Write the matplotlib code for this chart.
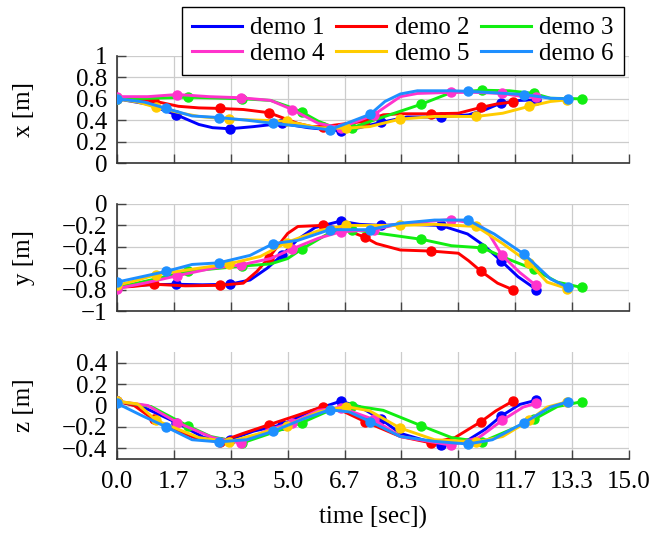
import matplotlib
matplotlib.use('Agg')
import matplotlib.pyplot as plt
from matplotlib.lines import Line2D

plt.rcParams['font.family'] = ['Liberation Serif', 'DejaVu Serif']
plt.rcParams['font.size'] = 18
plt.rcParams['axes.unicode_minus'] = True

demos = ['demo 1', 'demo 2', 'demo 3', 'demo 4', 'demo 5', 'demo 6']
colores = ['#0000ff', '#ff0000', '#11ee11', '#ff33cc', '#ffcc00', '#1e8fff']

# tiempos de los puntos marcados (por demo)
t_d1 = [0, 1.74, 3.30, 4.83, 6.55, 7.74, 9.49, 11.25, 12.29]
t_d2 = [0, 1.07, 3.01, 4.45, 6.03, 7.26, 9.21, 10.67, 11.59]
t_d3 = [0, 2.07, 3.67, 5.42, 6.89, 8.92, 10.70, 12.21, 13.61]
t_d4 = [0, 1.77, 3.62, 5.13, 6.55, 7.52, 9.78, 11.28, 12.27]
t_d5 = [0, 1.15, 3.27, 4.97, 6.71, 8.29, 10.53, 12.08, 13.19]
t_d6 = [0, 1.44, 2.98, 4.58, 6.23, 7.42, 10.28, 11.93, 13.22]

# valores en los puntos marcados
x_d1 = [0.60, 0.45, 0.32, 0.37, 0.30, 0.38, 0.43, 0.56, 0.59]
x_d2 = [0.61, 0.58, 0.51, 0.47, 0.34, 0.39, 0.46, 0.52, 0.57]
x_d3 = [0.60, 0.615, 0.60, 0.475, 0.33, 0.55, 0.68, 0.65, 0.60]
x_d4 = [0.62, 0.64, 0.61, 0.50, 0.33, 0.45, 0.66, 0.65, 0.615]
x_d5 = [0.60, 0.52, 0.41, 0.39, 0.325, 0.41, 0.435, 0.53, 0.59]
x_d6 = [0.60, 0.51, 0.425, 0.37, 0.31, 0.456, 0.67, 0.64, 0.60]

y_d1 = [-0.77, -0.75, -0.75, -0.48, -0.16, -0.20, -0.20, -0.53, -0.80]
y_d2 = [-0.78, -0.75, -0.76, -0.50, -0.20, -0.31, -0.44, -0.63, -0.80]
y_d3 = [-0.78, -0.63, -0.58, -0.42, -0.24, -0.33, -0.41, -0.61, -0.78]
y_d4 = [-0.79, -0.67, -0.57, -0.42, -0.26, -0.24, -0.145, -0.48, -0.76]
y_d5 = [-0.76, -0.66, -0.56, -0.36, -0.20, -0.20, -0.21, -0.55, -0.79]
y_d6 = [-0.73, -0.63, -0.55, -0.37, -0.24, -0.24, -0.15, -0.47, -0.78]

z_d1 = [0.04, -0.16, -0.32, -0.18, 0.04, -0.13, -0.37, -0.10, 0.05]
z_d2 = [0.04, -0.13, -0.34, -0.18, -0.01, -0.15, -0.35, -0.15, 0.04]
z_d3 = [0.04, -0.19, -0.35, -0.16, 0.0, -0.19, -0.34, -0.13, 0.035]
z_d4 = [0.04, -0.16, -0.35, -0.16, -0.02, -0.13, -0.37, -0.14, 0.02]
z_d5 = [0.04, -0.14, -0.34, -0.19, -0.01, -0.21, -0.34, -0.14, 0.035]
z_d6 = [0.02, -0.20, -0.34, -0.24, -0.04, -0.15, -0.36, -0.16, 0.035]

# puntos intermedios de las curvas (t, valor)
xe_d1 = [(0.9, 0.55), (2.4, 0.36), (2.8, 0.33), (4.0, 0.34), (5.6, 0.33), (7.1, 0.33), (8.5, 0.43), (10.3, 0.45), (10.8, 0.50), (11.8, 0.585)]
xe_d2 = [(0.5, 0.60), (1.8, 0.53), (2.4, 0.515), (3.7, 0.50), (5.3, 0.37), (5.7, 0.34), (7.8, 0.45), (8.3, 0.46), (10.0, 0.465), (11.1, 0.55)]
xe_d3 = [(1.0, 0.605), (4.5, 0.585), (5.0, 0.53), (5.9, 0.39), (6.3, 0.34), (7.8, 0.43), (9.4, 0.61), (9.8, 0.66), (11.5, 0.675), (12.7, 0.605)]
xe_d4 = [(0.9, 0.62), (2.7, 0.62), (4.5, 0.585), (5.9, 0.37), (8.3, 0.62), (8.8, 0.65), (10.5, 0.66), (11.8, 0.625)]
xe_d5 = [(0.6, 0.57), (1.9, 0.465), (2.4, 0.435), (4.2, 0.40), (5.9, 0.33), (7.4, 0.34), (9.3, 0.435), (11.3, 0.465), (12.7, 0.575)]
xe_d6 = [(0.8, 0.57), (2.2, 0.44), (3.8, 0.40), (5.5, 0.34), (7.85, 0.575), (8.3, 0.645), (8.8, 0.675), (9.8, 0.675), (12.7, 0.605)]

ye_d1 = [(0.9, -0.755), (2.5, -0.755), (3.9, -0.71), (4.4, -0.60), (5.3, -0.33), (5.8, -0.22), (7.1, -0.19), (8.5, -0.19), (10.27, -0.28), (10.76, -0.39), (11.75, -0.68)]
ye_d2 = [(0.5, -0.77), (2.0, -0.765), (3.7, -0.74), (4.1, -0.63), (5.0, -0.275), (5.3, -0.21), (6.6, -0.23), (7.6, -0.37), (8.3, -0.43), (10.0, -0.46), (10.3, -0.53), (11.15, -0.74)]
ye_d3 = [(1.0, -0.71), (3.0, -0.60), (4.5, -0.56), (5.0, -0.51), (6.2, -0.275), (7.8, -0.28), (9.8, -0.39), (11.5, -0.52), (12.9, -0.73)]
ye_d4 = [(0.8, -0.74), (2.8, -0.60), (4.5, -0.51), (5.9, -0.32), (8.3, -0.185), (10.6, -0.19), (10.9, -0.28), (11.8, -0.64)]
ye_d5 = [(0.5, -0.72), (2.4, -0.60), (4.2, -0.49), (5.9, -0.25), (7.5, -0.20), (9.3, -0.19), (11.3, -0.37), (12.6, -0.73)]
ye_d6 = [(2.2, -0.565), (3.9, -0.48), (5.3, -0.34), (8.3, -0.18), (9.3, -0.15), (11.05, -0.28), (12.7, -0.70)]

ze_d1 = [(0.8, -0.02), (2.55, -0.30), (4.0, -0.24), (5.7, -0.05), (7.1, -0.01), (8.3, -0.26), (10.3, -0.32), (10.8, -0.22), (11.8, 0.01)]
ze_d2 = [(0.5, 0.00), (1.8, -0.24), (2.35, -0.31), (3.7, -0.26), (5.3, -0.09), (6.6, -0.05), (8.3, -0.29), (9.9, -0.30), (11.1, -0.05)]
ze_d3 = [(1.0, -0.01), (2.75, -0.29), (4.5, -0.26), (6.2, -0.05), (7.8, -0.045), (9.8, -0.30), (11.5, -0.23), (12.9, -0.01)]
ze_d4 = [(0.9, 0.0), (2.8, -0.30), (4.4, -0.23), (5.9, -0.045), (8.3, -0.29), (10.6, -0.30), (10.9, -0.23), (11.9, -0.015)]
ze_d5 = [(0.6, 0.015), (2.4, -0.30), (4.2, -0.26), (5.9, -0.06), (7.4, -0.05), (9.3, -0.32), (11.3, -0.29), (12.6, -0.015)]
ze_d6 = [(0.7, -0.09), (2.2, -0.32), (3.8, -0.32), (5.5, -0.12), (6.8, -0.06), (8.3, -0.29), (9.3, -0.335), (11.0, -0.32), (12.7, -0.015)]

tiempos = [t_d1, t_d2, t_d3, t_d4, t_d5, t_d6]
marcas = {
    'x': [x_d1, x_d2, x_d3, x_d4, x_d5, x_d6],
    'y': [y_d1, y_d2, y_d3, y_d4, y_d5, y_d6],
    'z': [z_d1, z_d2, z_d3, z_d4, z_d5, z_d6],
}
extras = {
    'x': [xe_d1, xe_d2, xe_d3, xe_d4, xe_d5, xe_d6],
    'y': [ye_d1, ye_d2, ye_d3, ye_d4, ye_d5, ye_d6],
    'z': [ze_d1, ze_d2, ze_d3, ze_d4, ze_d5, ze_d6],
}

xticks = [i * 15 / 9 for i in range(10)]
xlabels = ['%.1f' % v for v in xticks]

ejes = {
    'x': dict(ylim=(0, 1), ticks=[0, 0.2, 0.4, 0.6, 0.8, 1],
              labels=['0', '0.2', '0.4', '0.6', '0.8', '1'], top=56, bottom=163),
    'y': dict(ylim=(-1, 0), ticks=[-1, -0.8, -0.6, -0.4, -0.2, 0],
              labels=['\u22121', '\u22120.8', '\u22120.6', '\u22120.4', '\u22120.2', '0'], top=204, bottom=311),
    'z': dict(ylim=(-0.5, 0.5), ticks=[-0.4, -0.2, 0, 0.2, 0.4],
              labels=['\u22120.4', '\u22120.2', '0', '0.2', '0.4'], top=352, bottom=459),
}

W, H = 670, 533
fig = plt.figure(figsize=(W / 100, H / 100), dpi=100)
izq, der = 117, 629


def curva(t_mk, v_mk, extra):
    pts = sorted(list(zip(t_mk, v_mk)) + list(extra))
    return [p[0] for p in pts], [p[1] for p in pts]


for dim, conf in ejes.items():
    ax = fig.add_axes([izq / W, 1 - conf['bottom'] / H, (der - izq) / W,
                       (conf['bottom'] - conf['top']) / H])
    for i in range(6):
        tc, vc = curva(tiempos[i], marcas[dim][i], extras[dim][i])
        ax.plot(tc, vc, color=colores[i], lw=2.1, zorder=3 + i,
                solid_capstyle='round', solid_joinstyle='round')
        ax.plot(tiempos[i], marcas[dim][i], 'o', color=colores[i], ms=6.5, zorder=3 + i)
    ax.set_xlim(0, 15)
    ax.set_ylim(*conf['ylim'])
    ax.set_xticks(xticks)
    ax.set_yticks(conf['ticks'])
    ax.set_yticklabels(conf['labels'])
    if dim == 'z':
        ax.set_xticklabels(xlabels)
    else:
        ax.set_xticklabels([])
    ax.grid(True, color='#cccccc', lw=0.9, zorder=0)
    ax.set_axisbelow(True)
    for s in ['top', 'right']:
        ax.spines[s].set_visible(False)
    for s in ['left', 'bottom']:
        ax.spines[s].set_color('#333333')
        ax.spines[s].set_linewidth(1.2)
    ax.tick_params(direction='in', length=6.5, width=1, color='#444444')
    ax.tick_params(axis='y', pad=6.8)
    ax.tick_params(axis='x', pad=8.6)
    yc = 1 - (conf['top'] + conf['bottom']) / 2 / H
    fig.text(24 / W, yc, '%s [m]' % dim, rotation=90, ha='center', va='center')

fig.text((izq + der) / 2 / W, 1 - 517 / H, 'time [sec])', ha='center', va='center')

# orden por filas como en la leyenda original
orden = [0, 3, 1, 4, 2, 5]
handles = [Line2D([], [], color=colores[i], lw=2.2) for i in orden]
leg = fig.legend(handles, [demos[i] for i in orden], ncol=3, loc='upper left',
                 bbox_to_anchor=(181.5 / W, 1 - 7 / H), frameon=True, fancybox=False,
                 edgecolor='black', framealpha=1, borderaxespad=0, handlelength=2.0,
                 handletextpad=0.35, columnspacing=0.45, borderpad=0.4, labelspacing=0.1)
leg.get_frame().set_linewidth(1.0)

plt.savefig('out.png', dpi=100)
